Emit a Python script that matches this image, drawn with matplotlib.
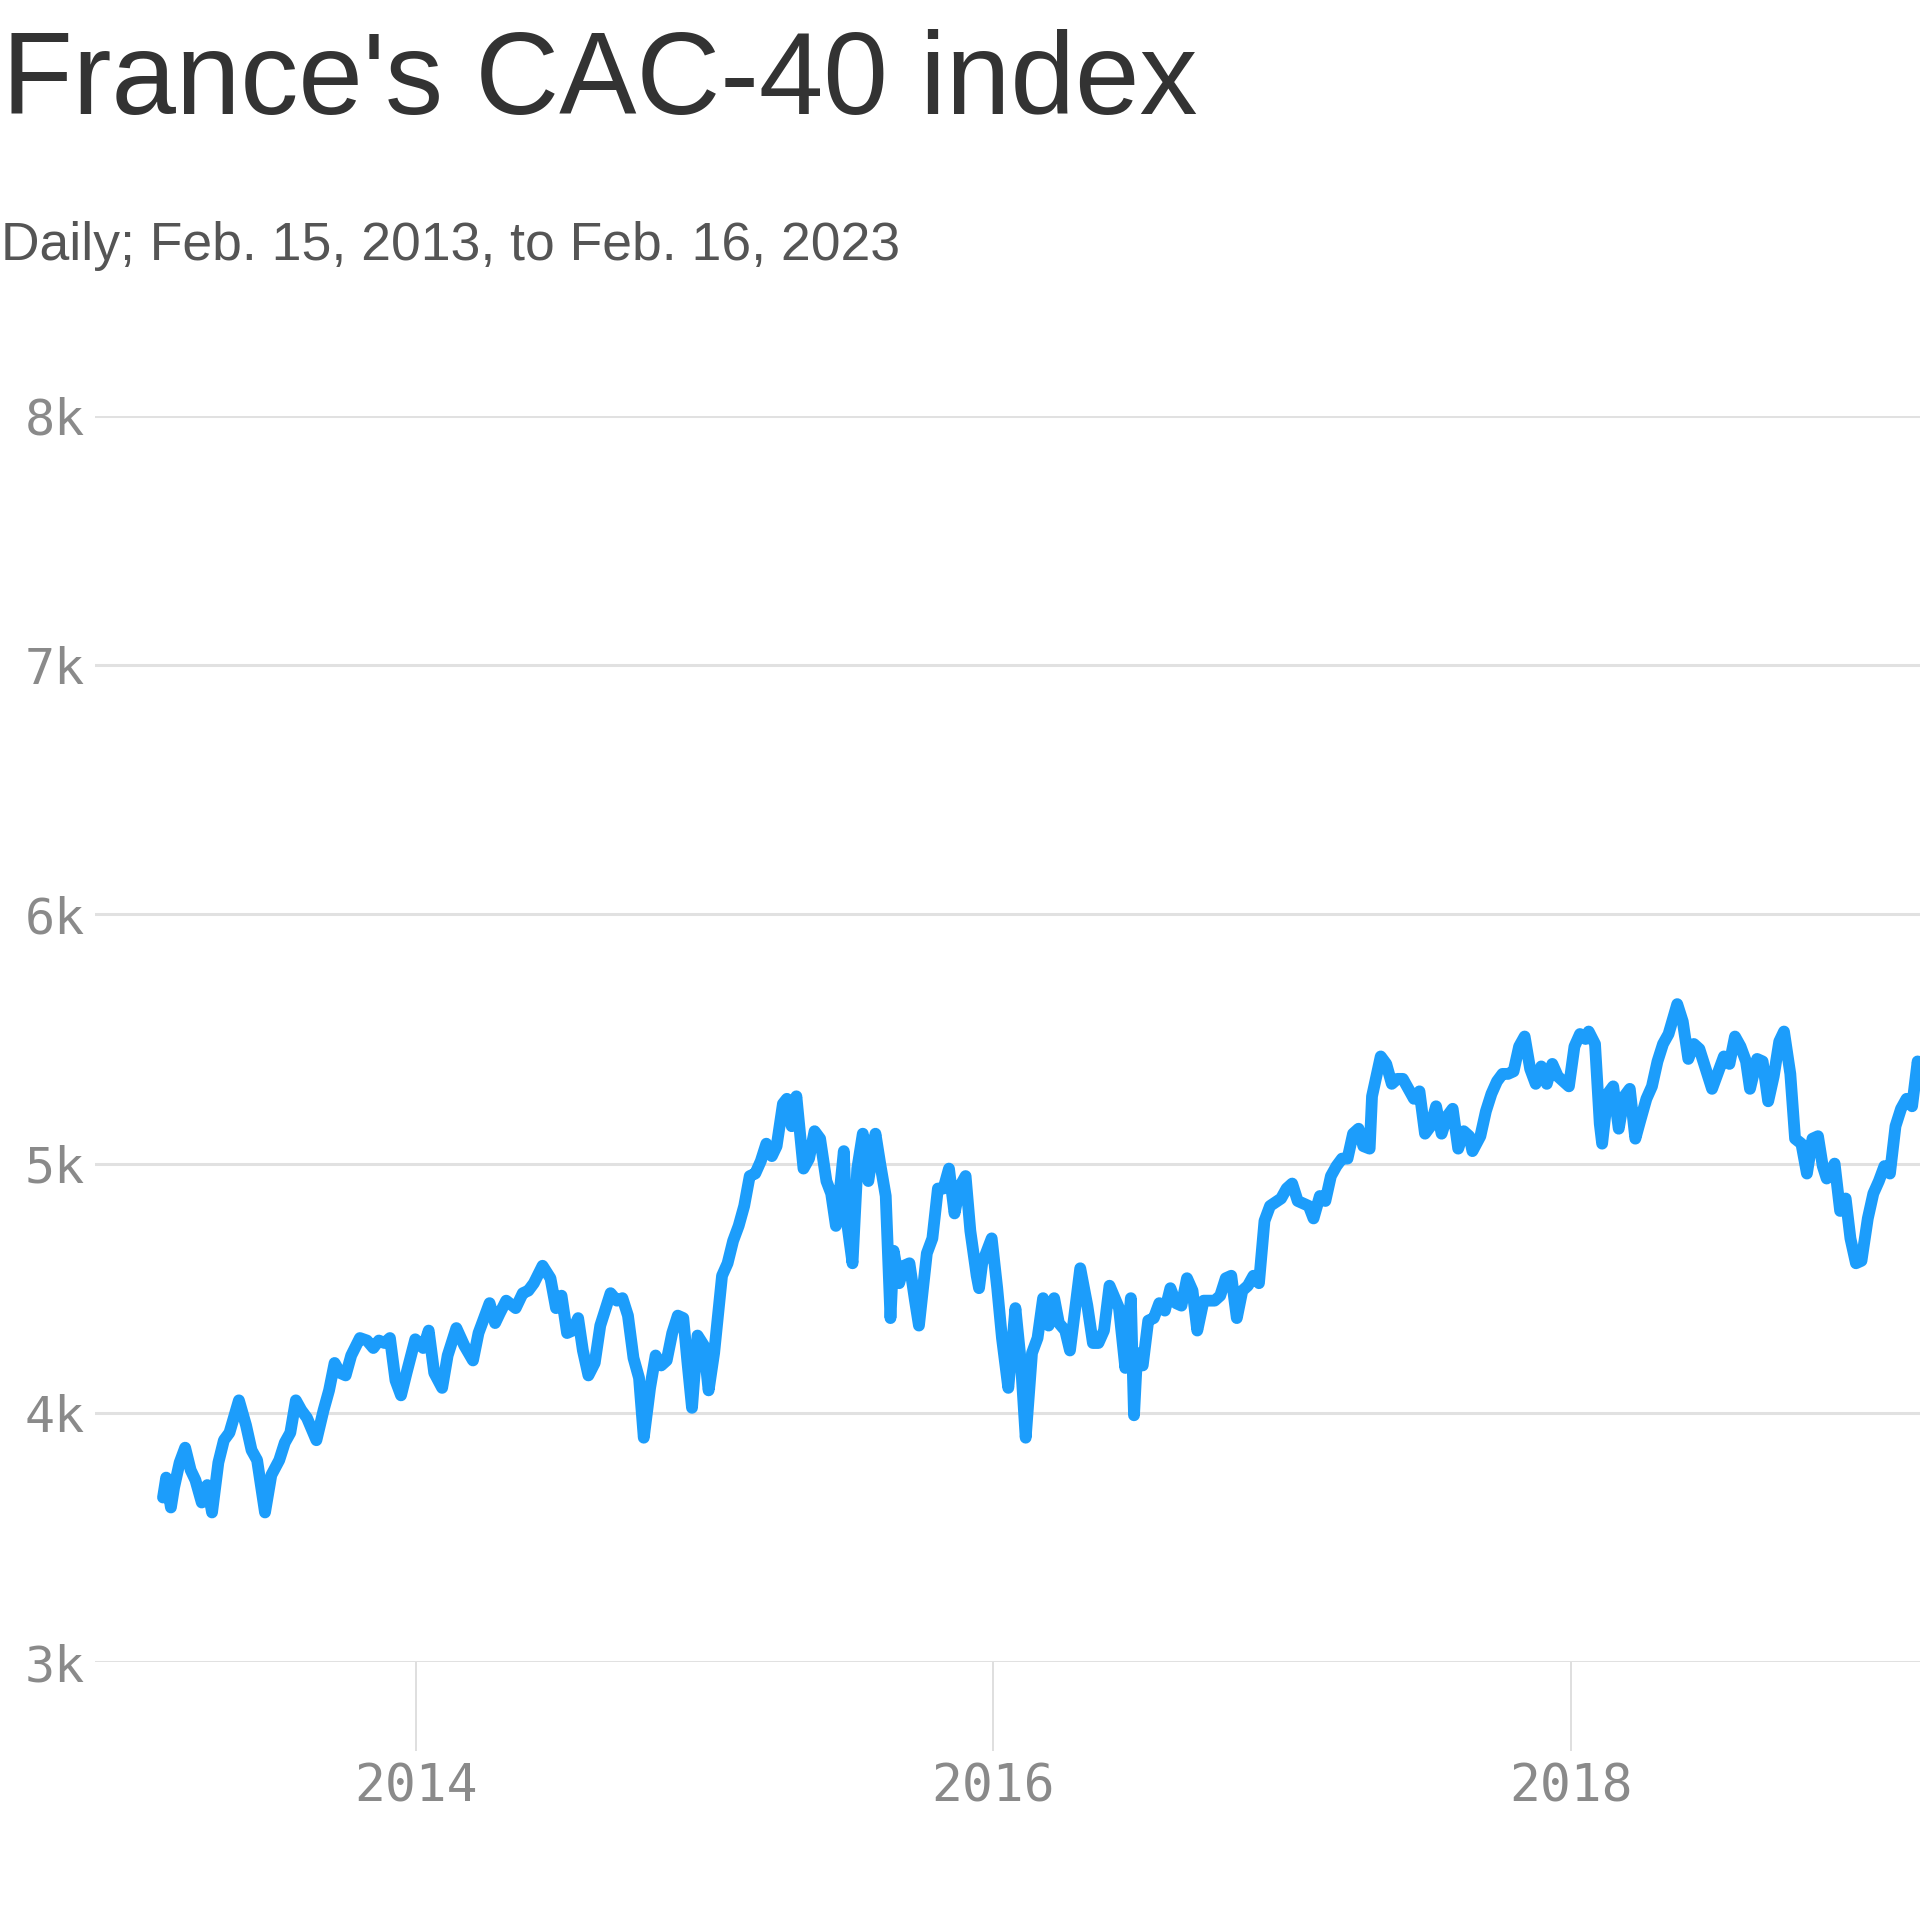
'''
France's CAC-40 index, daily closes (read off the reference, roughly weekly)
'''
import matplotlib
matplotlib.use('Agg')
import pandas as pd
from matplotlib import pyplot as plt

dates = [
    '2013-02-15', '2013-02-19', '2013-02-25', '2013-03-01', '2013-03-08', '2013-03-15',
    '2013-03-22', '2013-03-28', '2013-04-05', '2013-04-12', '2013-04-18', '2013-04-26',
    '2013-05-03', '2013-05-10', '2013-05-22', '2013-05-31', '2013-06-07', '2013-06-14',
    '2013-06-24', '2013-07-02', '2013-07-12', '2013-07-19', '2013-07-26', '2013-08-02',
    '2013-08-09', '2013-08-16', '2013-08-28', '2013-09-06', '2013-09-13', '2013-09-20',
    '2013-09-27', '2013-10-04', '2013-10-11', '2013-10-22', '2013-10-31', '2013-11-08',
    '2013-11-15', '2013-11-22', '2013-11-29', '2013-12-06', '2013-12-13', '2013-12-20',
    '2013-12-31',
    '2014-01-10', '2014-01-17', '2014-01-24', '2014-02-03', '2014-02-10', '2014-02-21',
    '2014-03-03', '2014-03-14', '2014-03-21', '2014-04-04', '2014-04-11', '2014-04-17',
    '2014-04-25', '2014-05-07', '2014-05-16', '2014-05-23', '2014-05-30', '2014-06-10',
    '2014-06-20', '2014-06-27', '2014-07-04', '2014-07-11', '2014-07-18', '2014-07-25',
    '2014-07-31', '2014-08-07', '2014-08-15', '2014-08-22', '2014-09-04', '2014-09-12',
    '2014-09-19', '2014-09-26', '2014-10-03', '2014-10-10', '2014-10-16', '2014-10-24',
    '2014-10-31', '2014-11-07', '2014-11-14', '2014-11-21', '2014-11-28', '2014-12-05',
    '2014-12-10', '2014-12-16', '2014-12-23', '2014-12-31',
    '2015-01-06', '2015-01-13', '2015-01-23', '2015-01-30', '2015-02-06', '2015-02-13',
    '2015-02-20', '2015-02-27', '2015-03-06', '2015-03-13', '2015-03-20', '2015-03-27',
    '2015-04-02', '2015-04-10', '2015-04-15', '2015-04-21', '2015-04-27', '2015-05-06',
    '2015-05-13', '2015-05-20', '2015-05-27', '2015-06-04', '2015-06-10', '2015-06-16',
    '2015-06-19', '2015-06-26', '2015-06-29', '2015-07-07', '2015-07-13', '2015-07-20',
    '2015-07-27', '2015-08-05', '2015-08-11', '2015-08-18', '2015-08-24', '2015-08-28',
    '2015-09-04', '2015-09-10', '2015-09-17', '2015-09-24', '2015-09-29', '2015-10-09',
    '2015-10-16', '2015-10-23', '2015-10-30', '2015-11-06', '2015-11-13', '2015-11-20',
    '2015-11-27', '2015-12-03', '2015-12-11', '2015-12-14', '2015-12-18', '2015-12-30',
    '2016-01-06', '2016-01-12', '2016-01-20', '2016-01-29', '2016-02-05', '2016-02-11',
    '2016-02-19', '2016-02-26', '2016-03-04', '2016-03-11', '2016-03-18', '2016-03-24',
    '2016-04-01', '2016-04-07', '2016-04-20', '2016-04-29', '2016-05-06', '2016-05-13',
    '2016-05-20', '2016-05-27', '2016-06-08', '2016-06-16', '2016-06-23', '2016-06-27',
    '2016-07-01', '2016-07-08', '2016-07-15', '2016-07-22', '2016-07-29', '2016-08-05',
    '2016-08-12', '2016-08-19', '2016-08-26', '2016-09-02', '2016-09-09', '2016-09-15',
    '2016-09-23', '2016-09-30', '2016-10-07', '2016-10-14', '2016-10-21', '2016-10-28',
    '2016-11-04', '2016-11-11', '2016-11-18', '2016-11-25', '2016-12-02', '2016-12-09',
    '2016-12-16', '2016-12-30',
    '2017-01-06', '2017-01-13', '2017-01-20', '2017-01-27', '2017-02-03', '2017-02-09',
    '2017-02-17', '2017-02-24', '2017-03-03', '2017-03-10', '2017-03-17', '2017-03-24',
    '2017-03-31', '2017-04-07', '2017-04-13', '2017-04-21', '2017-04-24', '2017-05-05',
    '2017-05-12', '2017-05-19', '2017-05-26', '2017-06-02', '2017-06-09', '2017-06-16',
    '2017-06-23', '2017-06-30', '2017-07-07', '2017-07-14', '2017-07-21', '2017-07-28',
    '2017-08-04', '2017-08-11', '2017-08-18', '2017-08-25', '2017-08-29', '2017-09-08',
    '2017-09-15', '2017-09-22', '2017-09-29', '2017-10-06', '2017-10-13', '2017-10-20',
    '2017-10-27', '2017-11-03', '2017-11-10', '2017-11-17', '2017-11-24', '2017-12-01',
    '2017-12-08', '2017-12-15', '2017-12-29',
    '2018-01-05', '2018-01-12', '2018-01-19', '2018-01-23', '2018-01-31', '2018-02-06',
    '2018-02-09', '2018-02-16', '2018-02-23', '2018-03-02', '2018-03-09', '2018-03-16',
    '2018-03-23', '2018-03-29', '2018-04-06', '2018-04-13', '2018-04-20', '2018-04-27',
    '2018-05-04', '2018-05-15', '2018-05-22', '2018-05-29', '2018-06-05', '2018-06-12',
    '2018-06-19', '2018-06-28', '2018-07-06', '2018-07-13', '2018-07-20', '2018-07-27',
    '2018-08-03', '2018-08-10', '2018-08-15', '2018-08-24', '2018-08-31', '2018-09-07',
    '2018-09-14', '2018-09-21', '2018-09-27', '2018-10-05', '2018-10-11', '2018-10-19',
    '2018-10-26', '2018-11-02', '2018-11-09', '2018-11-15', '2018-11-20', '2018-11-30',
    '2018-12-07', '2018-12-14', '2018-12-20', '2018-12-27',
    '2019-01-03', '2019-01-11', '2019-01-18', '2019-01-25', '2019-02-01', '2019-02-08',
    '2019-02-15', '2019-02-22', '2019-03-01', '2019-03-08', '2019-03-15', '2019-03-22',
]

values = [
    3660, 3740, 3620, 3700, 3800, 3860,
    3770, 3730, 3640, 3710, 3600, 3800,
    3890, 3920, 4050, 3950, 3850, 3810,
    3600, 3750, 3810, 3880, 3920, 4050,
    4010, 3980, 3890, 4010, 4090, 4200,
    4160, 4150, 4230, 4300, 4290, 4260,
    4290, 4280, 4300, 4130, 4070, 4160,
    4295,
    4260, 4330, 4160, 4100, 4230, 4340,
    4270, 4210, 4320, 4440, 4360, 4400,
    4450, 4420, 4480, 4490, 4520, 4590,
    4540, 4420, 4470, 4320, 4330, 4380,
    4250, 4150, 4200, 4350, 4480, 4450,
    4460, 4390, 4220, 4140, 3900, 4100,
    4230, 4190, 4210, 4320, 4390, 4380,
    4210, 4020, 4310, 4270,
    4090, 4240, 4550, 4600, 4690, 4750,
    4830, 4950, 4960, 5010, 5080, 5030,
    5070, 5240, 5260, 5150, 5270, 4980,
    5020, 5130, 5100, 4930, 4880, 4750,
    4830, 5050, 4790, 4600, 4980, 5120,
    4930, 5120, 5000, 4870, 4380, 4650,
    4520, 4590, 4600, 4450, 4350, 4640,
    4700, 4900, 4900, 4980, 4800, 4910,
    4950, 4730, 4550, 4500, 4600, 4700,
    4500, 4300, 4100, 4420, 4200, 3900,
    4240, 4300, 4460, 4350, 4460, 4360,
    4330, 4250, 4580, 4430, 4280, 4280,
    4330, 4510, 4420, 4180, 4460, 3990,
    4240, 4190, 4370, 4380, 4440, 4410,
    4500, 4440, 4430, 4540, 4490, 4330,
    4450, 4450, 4450, 4470, 4540, 4550,
    4380, 4490, 4510, 4550, 4520, 4770,
    4830, 4860,
    4900, 4920, 4850, 4840, 4830, 4780,
    4870, 4850, 4950, 4990, 5020, 5020,
    5120, 5140, 5070, 5060, 5270, 5430,
    5400, 5320, 5340, 5340, 5300, 5260,
    5290, 5120, 5150, 5230, 5120, 5190,
    5220, 5060, 5130, 5110, 5050, 5110,
    5210, 5280, 5330, 5360, 5360, 5370,
    5470, 5510, 5380, 5320, 5390, 5320,
    5400, 5350, 5310,
    5470, 5520, 5500, 5530, 5480, 5160,
    5080, 5280, 5310, 5140, 5270, 5300,
    5100, 5170, 5260, 5310, 5410, 5480,
    5520, 5640, 5570, 5420, 5480, 5460,
    5390, 5300, 5370, 5430, 5400, 5510,
    5470, 5410, 5300, 5420, 5410, 5250,
    5350, 5490, 5530, 5360, 5100, 5080,
    4960, 5100, 5110, 4990, 4940, 5000,
    4810, 4860, 4700, 4600,
    4610, 4780, 4880, 4930, 4990, 4960,
    5150, 5220, 5260, 5230, 5410, 5270,
]

year_ticks = ['2014-01-01', '2016-01-01', '2018-01-01']
year_labels = ['2014', '2016', '2018']
y_ticks = [3000, 4000, 5000, 6000, 7000, 8000]
y_labels = ['3k', '4k', '5k', '6k', '7k', '8k']

title = "France's CAC-40 index"
subtitle = 'Daily; Feb. 15, 2013, to Feb. 16, 2023'

W = 1920  # pixels, figure is square

fig = plt.figure(figsize=(19.2, 19.2), dpi=100)
fig.patch.set_facecolor('white')

# plot area: gridlines start at x=95px, 8k at y=416px, 3k at y=1662px
ax = fig.add_axes([95 / W, 1 - 1662 / W, 1 - 95 / W, (1662 - 416) / W])

x = pd.to_datetime(dates)
ax.plot(x, values, color='#1c9dfb', lw=8.5, solid_joinstyle='round',
        solid_capstyle='round', zorder=3, clip_on=False)

# the reference is cut off on the right, around mid-March 2019
ax.set_xlim(pd.Timestamp('2012-11-21'), pd.Timestamp('2019-03-18'))
ax.set_ylim(3000, 8000)

ax.set_yticks(y_ticks)
ax.set_yticklabels(y_labels)
ax.set_xticks(pd.to_datetime(year_ticks))
ax.set_xticklabels(year_labels)

for s in ax.spines.values():
    s.set_visible(False)

ax.grid(axis='y', color='#e1e1e1', lw=2.2, zorder=0)
ax.set_axisbelow(True)

mono = ['DejaVu Sans Mono']
ax.tick_params(axis='y', length=0, pad=7, labelsize=36, labelcolor='#8a8a8a')
ax.tick_params(axis='x', length=64, width=1.3, color='#dcdcdc', pad=8,
               labelsize=37, labelcolor='#8a8a8a')
for lab in ax.get_xticklabels() + ax.get_yticklabels():
    lab.set_family(mono)

fig.text(2 / W, 1 - 114 / W, title, fontsize=83.5, color='#333333',
         family=['Liberation Sans', 'DejaVu Sans'], va='baseline', ha='left')
fig.text(1 / W, 1 - 260 / W, subtitle, fontsize=38.5, color='#555555',
         family=['Liberation Sans', 'DejaVu Sans'],
         va='baseline', ha='left')

fig.savefig('out.png', dpi=100, facecolor='white')
